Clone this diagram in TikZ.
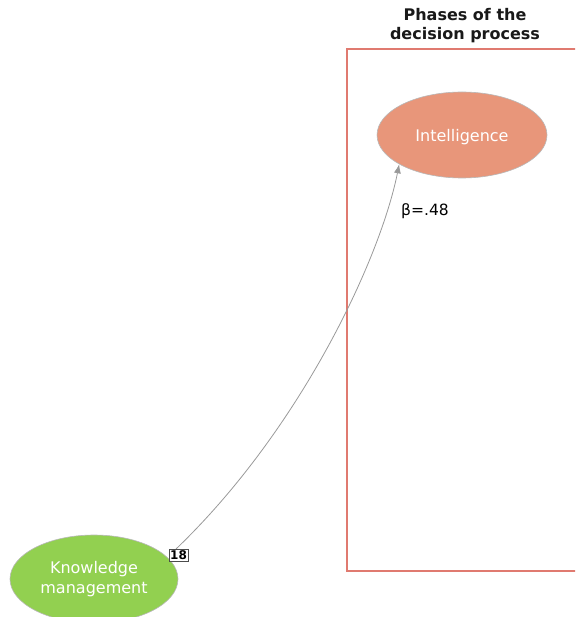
\documentclass[tikz,border=0pt]{standalone}
\usepackage{fontspec}
\setmainfont{DejaVu Sans}
\usetikzlibrary{shapes.geometric,arrows.meta}
\definecolor{salmon}{HTML}{E8967A}
\definecolor{leaf}{HTML}{92D050}
\definecolor{frame}{HTML}{E07A70}
\definecolor{edgegray}{HTML}{999999}
\tikzset{
  phase/.style={ellipse,draw=edgegray!70,line width=0.6pt,minimum width=170pt,minimum height=86pt,text=white,font=\fontsize{16}{20}\selectfont,align=center,inner sep=0pt},
  conn/.style={draw=edgegray,line width=0.8pt,-{Latex[length=9pt,width=7pt]}},
  tag/.style={draw=black!70,fill=white,font=\bfseries\fontsize{12}{13}\selectfont,inner sep=1.3pt,line width=0.7pt}
}
\begin{document}
\begin{tikzpicture}[x=1pt,y=-1pt]
\useasboundingbox (0,0) rectangle (575,617);
\begin{scope}
\clip (0,0) rectangle (575,617);
\draw[frame,line width=1.3pt] (600,49) -- (347,49) -- (347,571) -- (600,571);
\node[phase,fill=salmon,text height=13.8pt,text depth=0pt] (intel) at (462,135) {Intelligence};
\node[phase,fill=leaf,minimum width=168pt,minimum height=88pt,yshift=-1pt] (km) at (94,578) {Knowledge\\management};
\node[font=\bfseries\fontsize{16}{19}\selectfont,align=center,text=black!90] (title) at (465,26) {Phases of the\\decision process};
\coordinate (s) at (176,549);
\draw[conn] (s) .. controls (300,430) and (380,260) .. (intel.205);
\node[tag] (t18) at (178.5,555.5) {18};
\node[font=\fontsize{15.5}{18}\selectfont] (beta) at (425,211) {β=.48};
\end{scope}
\end{tikzpicture}
\end{document}
